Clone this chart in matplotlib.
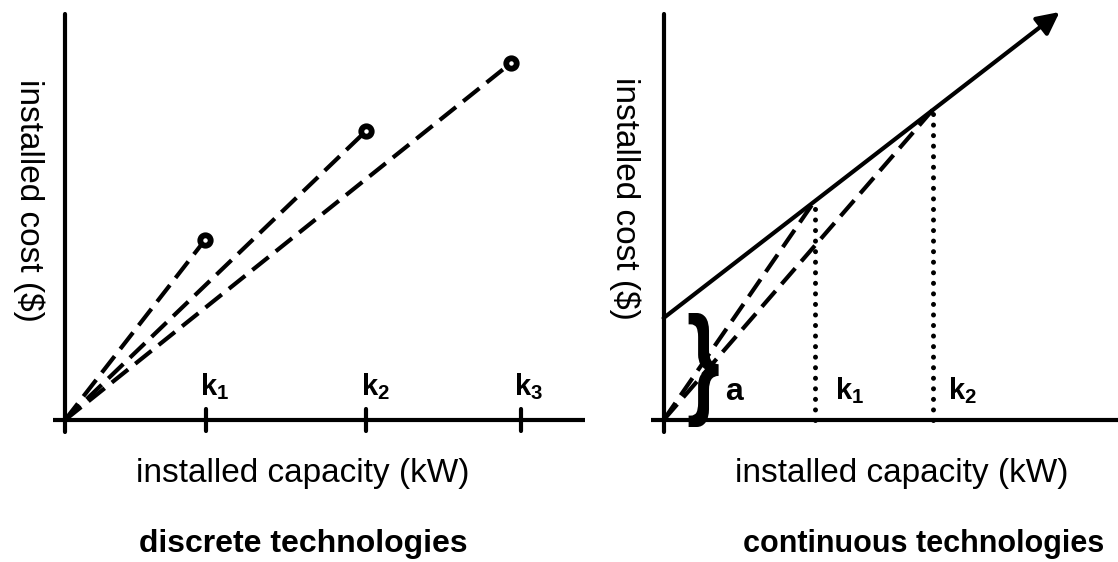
import matplotlib
matplotlib.use("Agg")
import matplotlib.pyplot as plt
import numpy as np
from matplotlib.patches import FancyArrowPatch, PathPatch
from matplotlib.textpath import TextPath
from matplotlib.path import Path
from matplotlib.font_manager import FontProperties

plt.rcParams['font.family'] = ['Liberation Sans', 'DejaVu Sans']
plt.rcParams['mathtext.fontset'] = 'custom'
plt.rcParams['mathtext.bf'] = 'Liberation Sans:bold'
plt.rcParams['mathtext.rm'] = 'Liberation Sans'

# ---------------- data (arbitrary units) ----------------
# discrete technologies
discrete_tick_capacity = [141, 301, 456]
discrete_capacity = [140, 301, 446]
discrete_cost = [180, 289, 357]
discrete_tick_labels = [r'$\mathbf{k_1}$', r'$\mathbf{k_2}$', r'$\mathbf{k_3}$']

# continuous technologies
fixed_cost = 102
cont_capacity = [151, 269]
cont_cost = [219, 310]
cont_tick_labels = [r'$\mathbf{k_1}$', r'$\mathbf{k_2}$']
line_end_capacity = 396
line_end_cost = 408

xlabel = 'installed capacity (kW)'
ylabel = 'installed cost ($)'
titles = ['discrete technologies', 'continuous technologies']

# ---------------- figure ----------------
W, H = 1118, 562
fig = plt.figure(figsize=(W / 100, H / 100), dpi=100)

LW = 3.0
DASH = (0, (5, 2.2))
DOT = (0, (0.01, 2.1))

axL = fig.add_axes([0, 0, 560 / W, 1])
axL.set_xlim(-65, 495)
axL.set_ylim(-142, 420)
axL.axis('off')

axR = fig.add_axes([560 / W, 0, 558 / W, 1])
axR.set_xlim(-103.6, 454.4)
axR.set_ylim(-142, 420)
axR.axis('off')

def draw_axes(ax, x_left, x_right):
    ax.plot([0, 0], [-12, 406], color='black', lw=LW, solid_capstyle='round', clip_on=False)
    ax.plot([x_left, x_right], [0, 0], color='black', lw=LW, solid_capstyle='butt', clip_on=False)

# ---- left panel ----
draw_axes(axL, -12, 520)
for xk in discrete_tick_capacity:
    axL.plot([xk, xk], [-11, 11], color='black', lw=LW, solid_capstyle='round')
for c, v in zip(discrete_capacity, discrete_cost):
    axL.plot([0, c], [0, v], color='black', lw=LW, linestyle=DASH, dash_capstyle='butt')
axL.plot(discrete_capacity, discrete_cost, linestyle='none', marker='o', ms=7.5,
         mew=4.2, mfc='white', mec='black', zorder=5)
for xk, lab in zip([135, 296, 449], discrete_tick_labels):
    axL.text(xk, 25, lab, fontsize=21, ha='left', va='baseline')

axL.text(-36, 220, ylabel, rotation=270, fontsize=24, ha='center', va='center')
axL.text(238, -62, xlabel, fontsize=24, ha='center', va='baseline')
axL.text(238, -132, titles[0], fontsize=23, fontweight='bold', ha='center', va='baseline')

# ---- right panel ----
draw_axes(axR, -12.6, 460)
arrow = FancyArrowPatch((0, fixed_cost), (line_end_capacity, line_end_cost),
                        arrowstyle='-|>,head_length=0.9,head_width=0.45',
                        mutation_scale=15, lw=LW, color='black', shrinkA=0, shrinkB=0)
axR.add_patch(arrow)
for c, v in zip(cont_capacity, cont_cost):
    axR.plot([0, c], [0, v], color='black', lw=LW, linestyle=DASH, dash_capstyle='butt')
    axR.plot([c, c], [0, v], color='black', lw=3.6, linestyle=DOT, dash_capstyle='round')
for xk, lab in zip([171, 284], cont_tick_labels):
    axR.text(xk, 21, lab, fontsize=21, ha='left', va='baseline')
axR.text(62, 20, 'a', fontsize=23, fontweight='bold', ha='left', va='baseline')

# brace spanning the fixed cost
fp = FontProperties(family='Liberation Sans', weight='bold')
tp = TextPath((0, 0), '}', size=1, prop=fp)
bb = tp.get_extents()
bx0, bx1, by0, by1 = 25, 55, -7, 107
v = tp.vertices.copy()
v[:, 0] = (v[:, 0] - bb.x0) / bb.width * (bx1 - bx0) + bx0
v[:, 1] = (v[:, 1] - bb.y0) / bb.height * (by1 - by0) + by0
axR.add_patch(PathPatch(Path(v, tp.codes), facecolor='black', edgecolor='none'))

axR.text(-38.6, 222, ylabel, rotation=270, fontsize=24, ha='center', va='center')
axR.text(238.4, -62, xlabel, fontsize=24, ha='center', va='baseline')
axR.text(260.4, -132, titles[1], fontsize=22, fontweight='bold', ha='center', va='baseline')

fig.savefig('out.png', dpi=100)
